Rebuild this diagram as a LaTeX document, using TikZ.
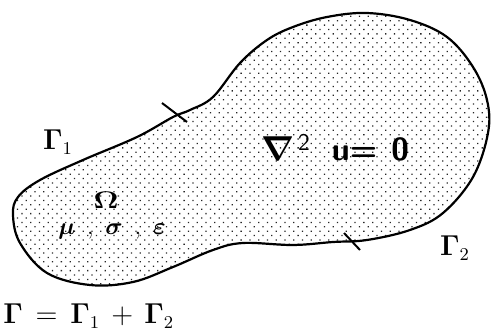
\documentclass[tikz,border=0pt]{standalone}
\usepackage{amsmath,amssymb,bm}
\usepackage{tikz}
\usetikzlibrary{patterns.meta}

\begin{document}
\begin{tikzpicture}[x=0.5pt,y=-0.5pt,every node/.style={inner sep=0pt},bnd/.style={line width=1.1pt,line join=round},tick/.style={line width=1pt},glabel/.style={font=\fontsize{13.5}{15}\selectfont},dom/.style={font=\large}]
\useasboundingbox (0,0) rectangle (493,332);
% domain and its boundary
\filldraw[bnd,pattern={Dots[distance=3.1pt,angle=45,radius=0.45pt]},pattern color=black!85] plot[smooth cycle,tension=0.6] coordinates {(13,215) (20,243) (47,273) (90,285) (133,282) (173,267) (213,250) (243,243) (293,245) (333,242) (367,240) (410,230) (443,213) (473,177) (488,133) (487,100) (473,67) (447,37) (410,20) (367,13) (327,17) (293,27) (267,40) (240,63) (213,97) (190,110) (173,117) (137,137) (83,160) (40,180) (18,197)};
% split points of the boundary
\coordinate (s1a) at (162,103); \coordinate (s1b) at (187,122);
\coordinate (s2a) at (344,233); \coordinate (s2b) at (360,250);
\draw[tick] (s1a) -- (s1b);
\draw[tick] (s2a) -- (s2b);
\node[glabel] (g1) at (58,142) {$\bm{\Gamma}_{1}$};
\node[glabel] (g2) at (455,248) {$\bm{\Gamma}_{2}$};
\node[font=\fontsize{16}{18}\selectfont\sffamily\bfseries] (eq) at (335,148) {$\bm{\nabla}$\hspace{2pt}\raisebox{5pt}{\large\mdseries 2}\hspace{11pt}u=\hspace{7pt}0};
\node[dom,xscale=1.3] (om) at (106,200) {$\bm{\Omega}$};
\node[dom] (par) at (112,231) {$\bm{\mu}$\,\ ,\,\ $\bm{\sigma}$\,\ ,\,\ $\bm{\varepsilon}$};
\node[glabel,anchor=west] (gsum) at (3,316) {$\bm{\Gamma} \,=\, \bm{\Gamma}_{1} \,+\, \bm{\Gamma}_{2}$};
\end{tikzpicture}
\end{document}
